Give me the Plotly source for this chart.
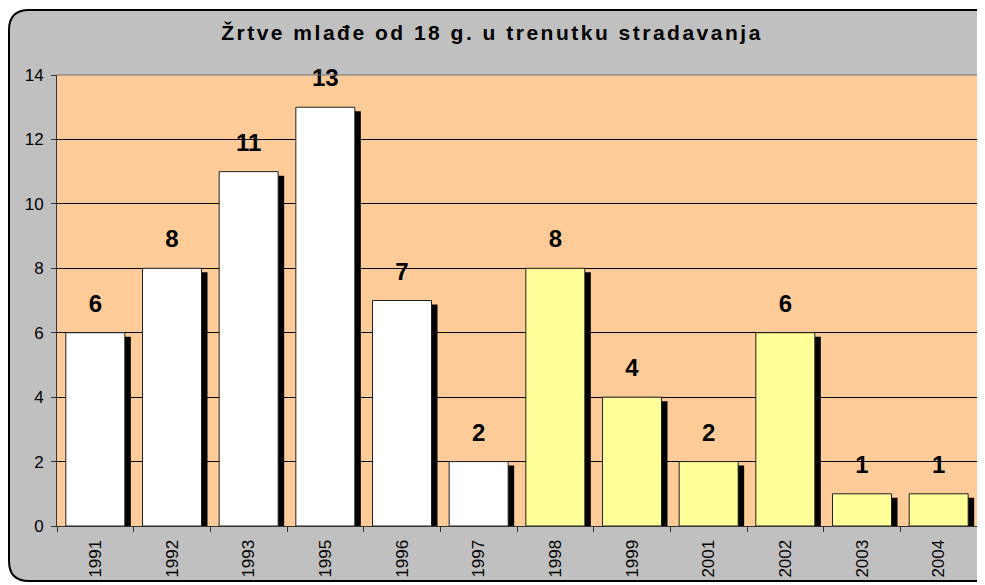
import plotly.graph_objects as go

# ---- data ----
years = ["1991", "1992", "1993", "1995", "1996", "1997",
         "1998", "1999", "2001", "2002", "2003", "2004"]
victims = [6, 8, 11, 13, 7, 2, 8, 4, 2, 6, 1, 1]
bar_colors = ["#FFFFFF"] * 6 + ["#FFFF99"] * 6
title_text = "Žrtve mlađe od 18 g. u trenutku stradavanja"
y_ticks = [0, 2, 4, 6, 8, 10, 12, 14]

# ---- layout geometry (pixels, figure is placed at page offset 8,8) ----
W, H = 977, 577
ML, MR, MT, MB = 49, 8, 67, 59
PW, PH = W - ML - MR, H - MT - MB
YMAX = 14
n = len(years)
cat_px = PW / n
bar_w = 59 / cat_px
sh_dx = 6 / cat_px
sh_dy = 4 * YMAX / PH
lab_dy = 27 * YMAX / PH

font_fam = "Arial, Liberation Sans, sans-serif"

fig = go.Figure()
# shadow bars
fig.add_trace(go.Bar(
    x=years, y=[v - sh_dy for v in victims],
    width=bar_w, offset=-bar_w / 2 + sh_dx,
    marker=dict(color="#000000", line=dict(width=0)),
    hoverinfo="skip", showlegend=False))
# main bars
fig.add_trace(go.Bar(
    x=years, y=victims,
    width=bar_w, offset=-bar_w / 2,
    marker=dict(color=bar_colors, line=dict(color="#202020", width=1)),
    showlegend=False))
# value labels
fig.add_trace(go.Scatter(
    x=years, y=[v + lab_dy for v in victims],
    mode="text", text=["<b>%d</b>" % v for v in victims],
    textposition="middle center",
    textfont=dict(family=font_fam, size=24, color="#000000"),
    cliponaxis=False, hoverinfo="skip", showlegend=False))

# rounded frame in paper coordinates
def px(x):
    return (x - ML) / PW

def py(y):
    return (H - MB - y) / PH

L, T, R, B, r = 1, 2, 990, 573, 20
path = (f"M {px(L)},{py(T + r)} "
        f"Q {px(L)},{py(T)} {px(L + r)},{py(T)} "
        f"L {px(R - r)},{py(T)} "
        f"Q {px(R)},{py(T)} {px(R)},{py(T + r)} "
        f"L {px(R)},{py(B - r)} "
        f"Q {px(R)},{py(B)} {px(R - r)},{py(B)} "
        f"L {px(L + r)},{py(B)} "
        f"Q {px(L)},{py(B)} {px(L)},{py(B - r)} Z")
fig.add_shape(type="path", path=path, xref="paper", yref="paper",
              fillcolor="#C0C0C0", line=dict(color="#000000", width=2),
              layer="below")
# plot area background
fig.add_shape(type="rect", x0=0, x1=1, y0=0, y1=1, xref="paper", yref="paper",
              fillcolor="#FFCC99", line=dict(width=0), layer="below")
# top border of plot area
fig.add_shape(type="line", x0=0, x1=1, y0=1, y1=1, xref="paper", yref="paper",
              line=dict(color="#707070", width=1), layer="above")

fig.update_layout(
    width=W, height=H,
    margin=dict(l=ML, r=MR, t=MT, b=MB, pad=0),
    paper_bgcolor="#FFFFFF",
    plot_bgcolor="rgba(0,0,0,0)",
    barmode="overlay",
    font=dict(family=font_fam, color="#000000"),
    title=dict(text='<b><span style="letter-spacing:2.5px">' + title_text + '</span></b>',
               x=484 / W, xref="container", xanchor="center",
               y=1 - 25 / H, yref="container", yanchor="middle",
               font=dict(family=font_fam, size=21, color="#000000")),
    xaxis=dict(type="category", categoryorder="array", categoryarray=years,
               tickson="boundaries", ticks="outside", ticklen=5,
               tickcolor="#333333", tickangle=-90,
               tickfont=dict(family=font_fam, size=17),
               showline=True, linecolor="#333333", linewidth=1,
               showgrid=False, range=[-0.5, n - 0.5], automargin=False,
               ticklabelstandoff=6),
    yaxis=dict(range=[0, YMAX], tickvals=y_ticks, ticks="outside", ticklen=5,
               tickcolor="#333333", tickfont=dict(family=font_fam, size=17),
               showline=True, linecolor="#333333", linewidth=1,
               showgrid=True, gridcolor="#000000", gridwidth=1,
               zeroline=False, ticklabelstandoff=4, automargin=False),
)

fig.write_html("out.html")
